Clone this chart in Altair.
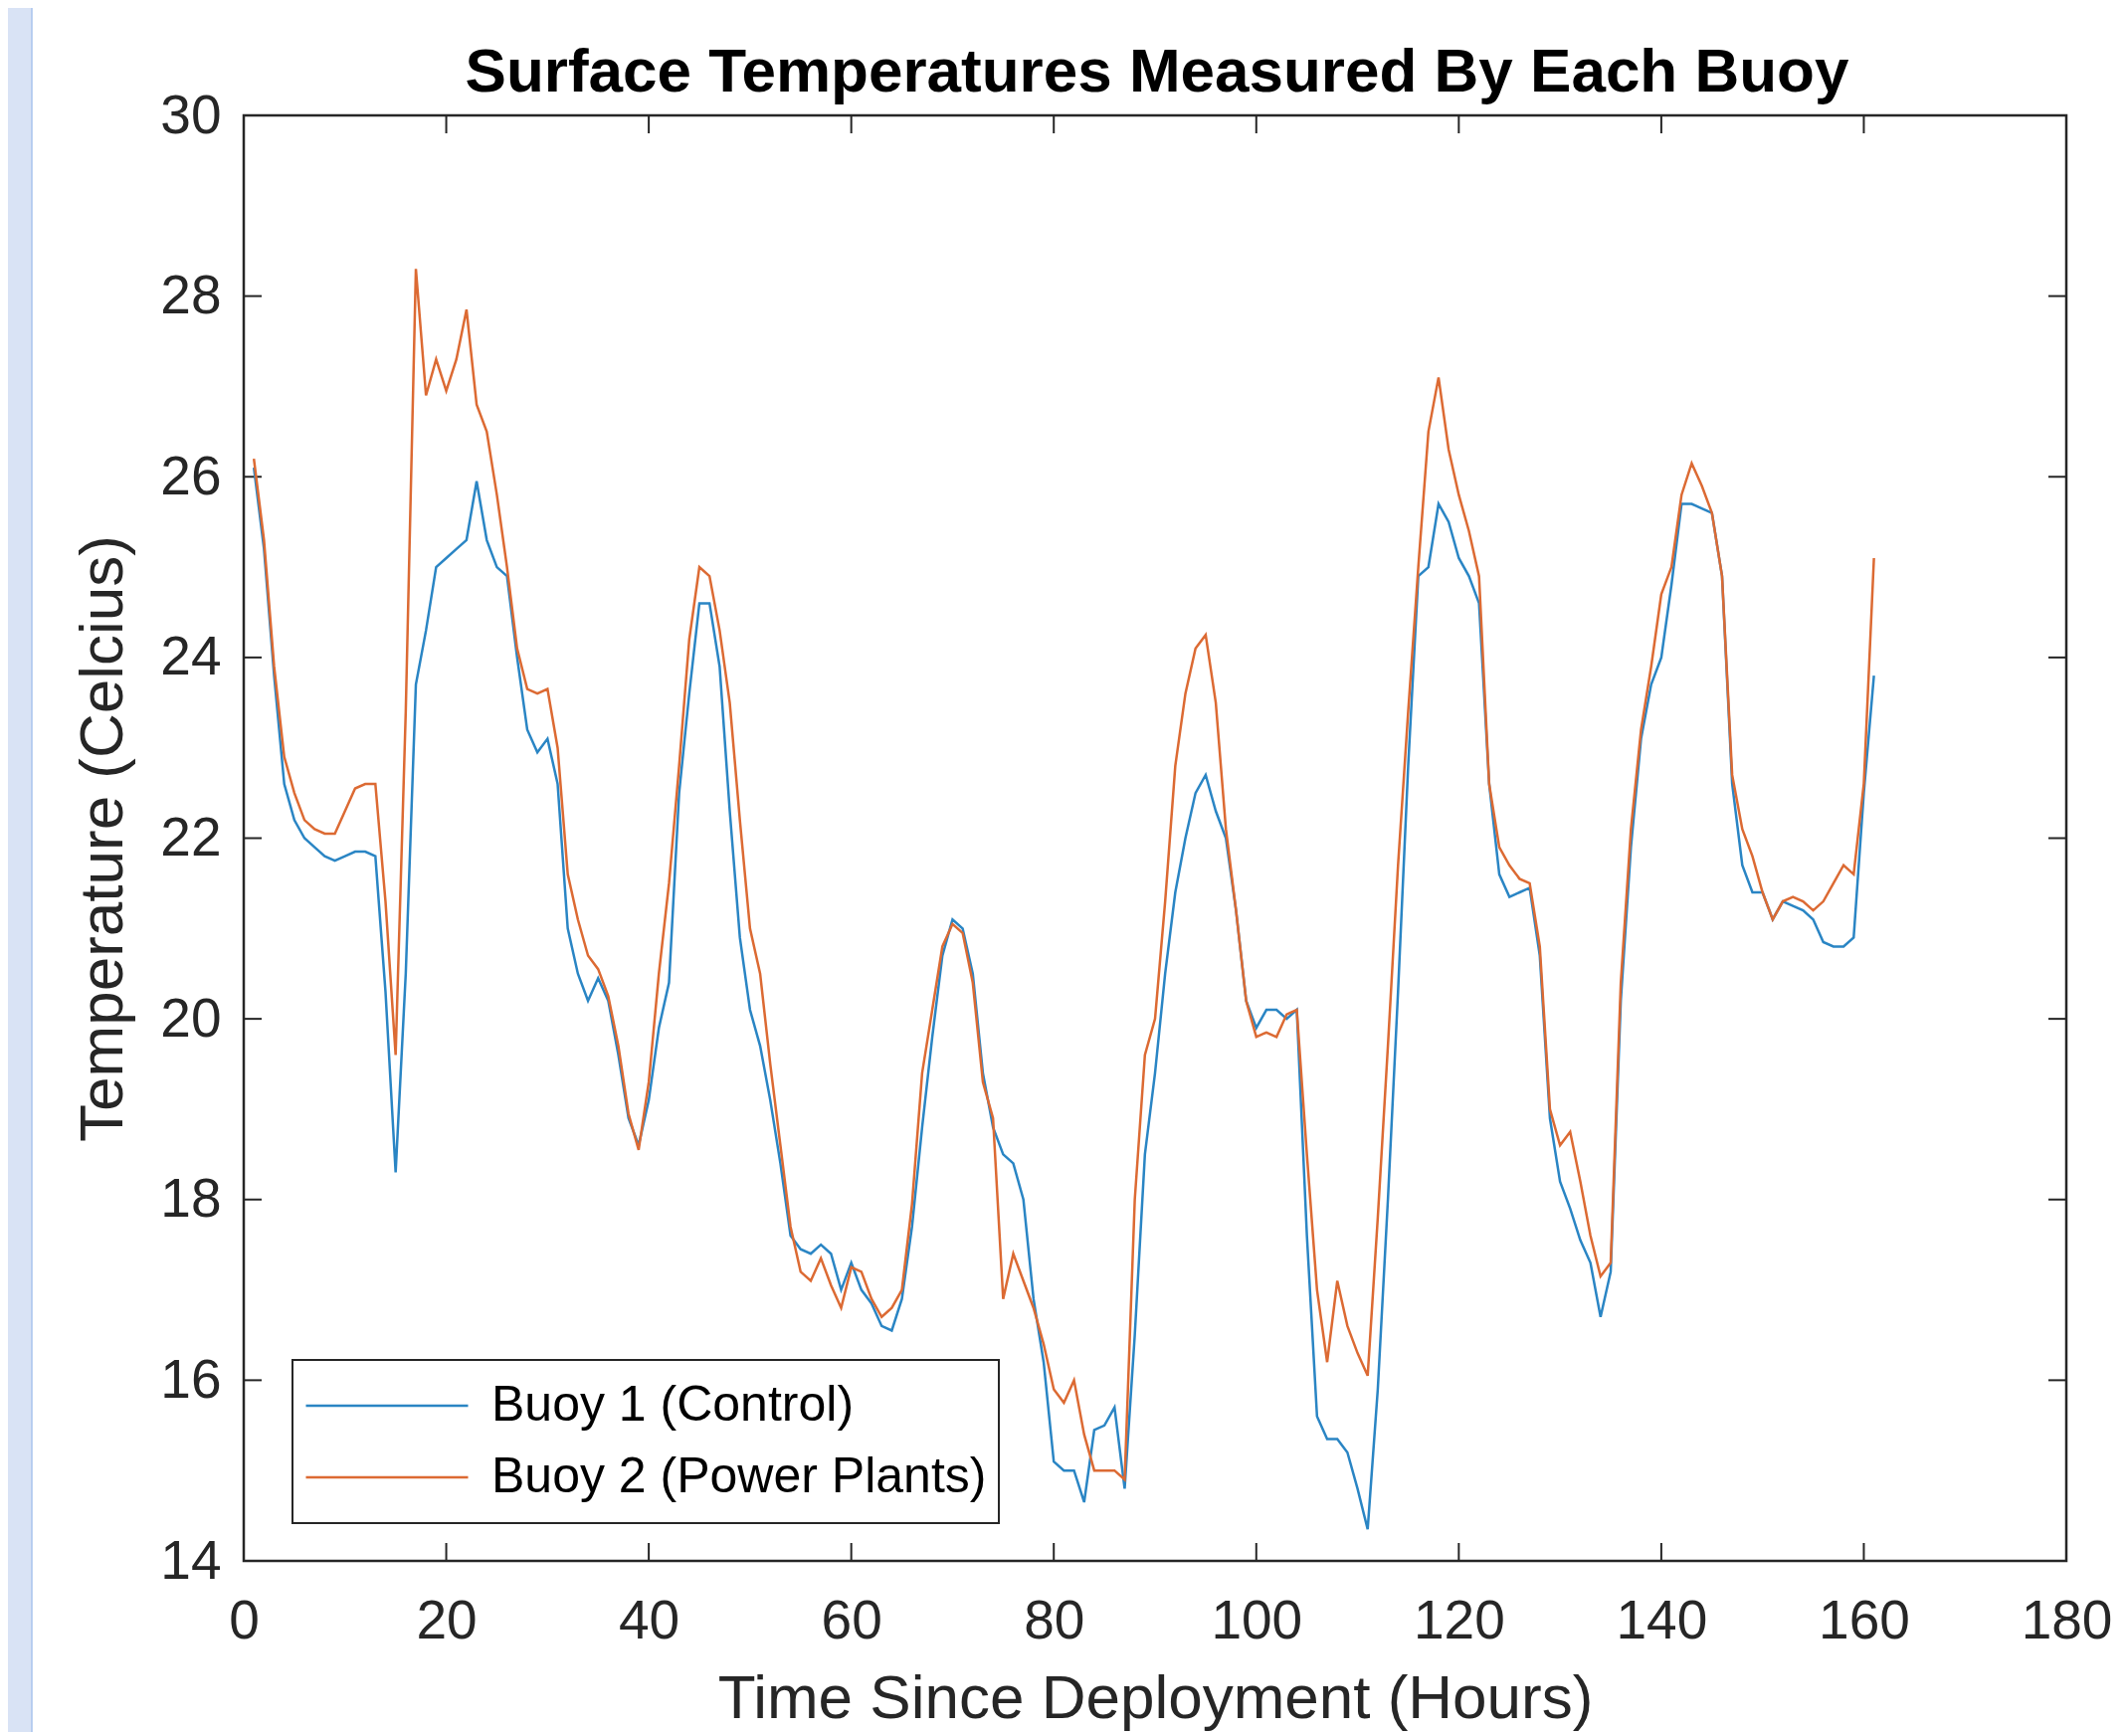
import altair as alt
import pandas as pd

hours = list(range(1, 162))

buoy1 = [
    26.1, 25.2, 23.8, 22.6, 22.2, 22.0, 21.9, 21.8, 21.75, 21.8,
    21.85, 21.85, 21.8, 20.3, 18.3, 20.5, 23.7, 24.3, 25.0, 25.1,
    25.2, 25.3, 25.95, 25.3, 25.0, 24.9, 24.0, 23.2, 22.95, 23.1,
    22.6, 21.0, 20.5, 20.2, 20.45, 20.2, 19.6, 18.9, 18.6, 19.1,
    19.9, 20.4, 22.5, 23.6, 24.6, 24.6, 23.9, 22.3, 20.9, 20.1,
    19.7, 19.1, 18.4, 17.6, 17.45, 17.4, 17.5, 17.4, 17.0, 17.3,
    17.0, 16.85, 16.6, 16.55, 16.9, 17.7, 18.8, 19.8, 20.7, 21.1,
    21.0, 20.5, 19.4, 18.8, 18.5, 18.4, 18.0, 16.9, 16.2, 15.1,
    15.0, 15.0, 14.65, 15.45, 15.5, 15.7, 14.8, 16.5, 18.5, 19.4,
    20.5, 21.4, 22.0, 22.5, 22.7, 22.3, 22.0, 21.2, 20.2, 19.9,
    20.1, 20.1, 20.0, 20.1, 17.6, 15.6, 15.35, 15.35, 15.2, 14.8,
    14.35, 15.9, 18.0, 20.3, 22.8, 24.9, 25.0, 25.7, 25.5, 25.1,
    24.9, 24.6, 22.6, 21.6, 21.35, 21.4, 21.45, 20.7, 18.9, 18.2,
    17.9, 17.55, 17.3, 16.7, 17.2, 20.2, 21.9, 23.1, 23.7, 24.0,
    24.8, 25.7, 25.7, 25.65, 25.6, 24.9, 22.6, 21.7, 21.4, 21.4,
    21.1, 21.3, 21.25, 21.2, 21.1, 20.85, 20.8, 20.8, 20.9, 22.5, 23.8,
]

buoy2 = [
    26.2, 25.3, 23.9, 22.9, 22.5, 22.2, 22.1, 22.05, 22.05, 22.3,
    22.55, 22.6, 22.6, 21.3, 19.6, 23.4, 28.3, 26.9, 27.3, 26.95,
    27.3, 27.85, 26.8, 26.5, 25.8, 25.0, 24.1, 23.65, 23.6, 23.65,
    23.0, 21.6, 21.1, 20.7, 20.55, 20.25, 19.7, 18.95, 18.55, 19.3,
    20.5, 21.5, 22.8, 24.2, 25.0, 24.9, 24.3, 23.5, 22.2, 21.0,
    20.5, 19.5, 18.6, 17.7, 17.2, 17.1, 17.35, 17.05, 16.8, 17.25,
    17.2, 16.9, 16.7, 16.8, 17.0, 17.95, 19.4, 20.1, 20.8, 21.05,
    20.95, 20.4, 19.3, 18.9, 16.9, 17.4, 17.1, 16.8, 16.4, 15.9,
    15.75, 16.0, 15.4, 15.0, 15.0, 15.0, 14.9, 18.0, 19.6, 20.0,
    21.3, 22.8, 23.6, 24.1, 24.25, 23.5, 22.1, 21.2, 20.2, 19.8,
    19.85, 19.8, 20.05, 20.1, 18.5, 17.0, 16.2, 17.1, 16.6, 16.3,
    16.05, 17.8, 19.7, 21.7, 23.4, 25.0, 26.5, 27.1, 26.3, 25.8,
    25.4, 24.9, 22.6, 21.9, 21.7, 21.55, 21.5, 20.8, 19.0, 18.6,
    18.75, 18.2, 17.6, 17.15, 17.3, 20.4, 22.1, 23.2, 23.9, 24.7,
    25.0, 25.8, 26.15, 25.9, 25.6, 24.9, 22.7, 22.1, 21.8, 21.4,
    21.1, 21.3, 21.35, 21.3, 21.2, 21.3, 21.5, 21.7, 21.6, 22.6, 25.1,
]

series_names = ["Buoy 1 (Control)", "Buoy 2 (Power Plants)"]
series_colors = ["#2a85c4", "#dc6a33"]

x_ticks = [0, 20, 40, 60, 80, 100, 120, 140, 160, 180]
y_ticks = [14, 16, 18, 20, 22, 24, 26, 28, 30]

title_text = "Surface Temperatures Measured By Each Buoy"
x_title = "Time Since Deployment (Hours)"
y_title = "Temperature (Celcius)"

W, H = 1832, 1453
FONT = "Liberation Sans"
AX = "#262626"
TICK = 18

df = pd.DataFrame({
    "Hours": hours * 2,
    "Temp": buoy1 + buoy2,
    "Series": [series_names[0]] * len(hours) + [series_names[1]] * len(hours),
})
xt = pd.DataFrame({"Hours": x_ticks})
yt = pd.DataFrame({"Temp": y_ticks})
one = pd.DataFrame({"a": [0]})

xscale = alt.Scale(domain=[0, 180], nice=False, zero=False)
yscale = alt.Scale(domain=[14, 30], nice=False, zero=False)

x_axis = alt.Axis(values=x_ticks, title=x_title, domain=False, ticks=False,
                  labelFontSize=55, labelPadding=34, labelColor=AX,
                  labelFont=FONT, titleFont=FONT, titleFontSize=62,
                  titleFontWeight="normal", titleColor=AX, grid=False,
                  titleX=W / 2, titleY=157, titleBaseline="alphabetic",
                  titleAlign="center", labelFlush=False)
y_axis = alt.Axis(values=y_ticks, title=y_title, domain=False, ticks=False,
                  labelFontSize=55, labelPadding=23, labelColor=AX,
                  labelFont=FONT, titleFont=FONT, titleFontSize=62,
                  titleFontWeight="normal", titleColor=AX, grid=False,
                  titleAngle=270, titleX=-123, titleY=H / 2,
                  titleBaseline="alphabetic", titleAlign="center",
                  labelFlush=False)

lines = alt.Chart(df).mark_line(strokeWidth=2.5, clip=True).encode(
    x=alt.X("Hours:Q", scale=xscale, axis=x_axis),
    y=alt.Y("Temp:Q", scale=yscale, axis=y_axis),
    color=alt.Color("Series:N",
                    scale=alt.Scale(domain=series_names, range=series_colors),
                    legend=alt.Legend(orient="none", legendX=49, legendY=1251,
                                      title=None, symbolType="stroke",
                                      symbolSize=26569, symbolStrokeWidth=2.5,
                                      labelFontSize=50, labelFont=FONT,
                                      labelColor="#000000", strokeColor=AX,
                                      fillColor="white", padding=12, rowPadding=4,
                                      clipHeight=68, labelOffset=22,
                                      labelLimit=800)),
)

tick_bottom = alt.Chart(xt).mark_rule(color=AX, strokeWidth=2).encode(
    x=alt.X("Hours:Q", scale=xscale, axis=x_axis),
    y=alt.value(H), y2=alt.value(H - TICK))
tick_top = alt.Chart(xt).mark_rule(color=AX, strokeWidth=2).encode(
    x=alt.X("Hours:Q", scale=xscale, axis=x_axis),
    y=alt.value(0), y2=alt.value(TICK))
tick_left = alt.Chart(yt).mark_rule(color=AX, strokeWidth=2).encode(
    y=alt.Y("Temp:Q", scale=yscale, axis=y_axis),
    x=alt.value(0), x2=alt.value(TICK))
tick_right = alt.Chart(yt).mark_rule(color=AX, strokeWidth=2).encode(
    y=alt.Y("Temp:Q", scale=yscale, axis=y_axis),
    x=alt.value(W), x2=alt.value(W - TICK))

strip = alt.Chart(one).mark_rect(color="#d9e3f5").encode(
    x=alt.value(-237), x2=alt.value(-213), y=alt.value(-108), y2=alt.value(H + 172))
strip_edge = alt.Chart(one).mark_rule(color="#a9c3ec", strokeWidth=1.5).encode(
    x=alt.value(-213), y=alt.value(-108), y2=alt.value(H + 172))

title = alt.Chart(one).mark_text(
    text=title_text, fontSize=62, fontWeight="bold", font=FONT, color="#000000",
    align="center", baseline="alphabetic"
).encode(x=alt.value(W / 2 + 2), y=alt.value(-24))

chart = alt.layer(
    strip, strip_edge, tick_bottom, tick_top, tick_left, tick_right, lines, title
).properties(
    width=W, height=H,
    autosize=alt.AutoSizeParams(type="none"),
    padding={"left": 237, "top": 108, "right": 50, "bottom": 172},
    background="white",
).configure_view(
    stroke=AX, strokeWidth=2.5
).configure_legend(strokeWidth=2)

chart.save("out.html", embed_options={"renderer": "svg", "actions": False})
